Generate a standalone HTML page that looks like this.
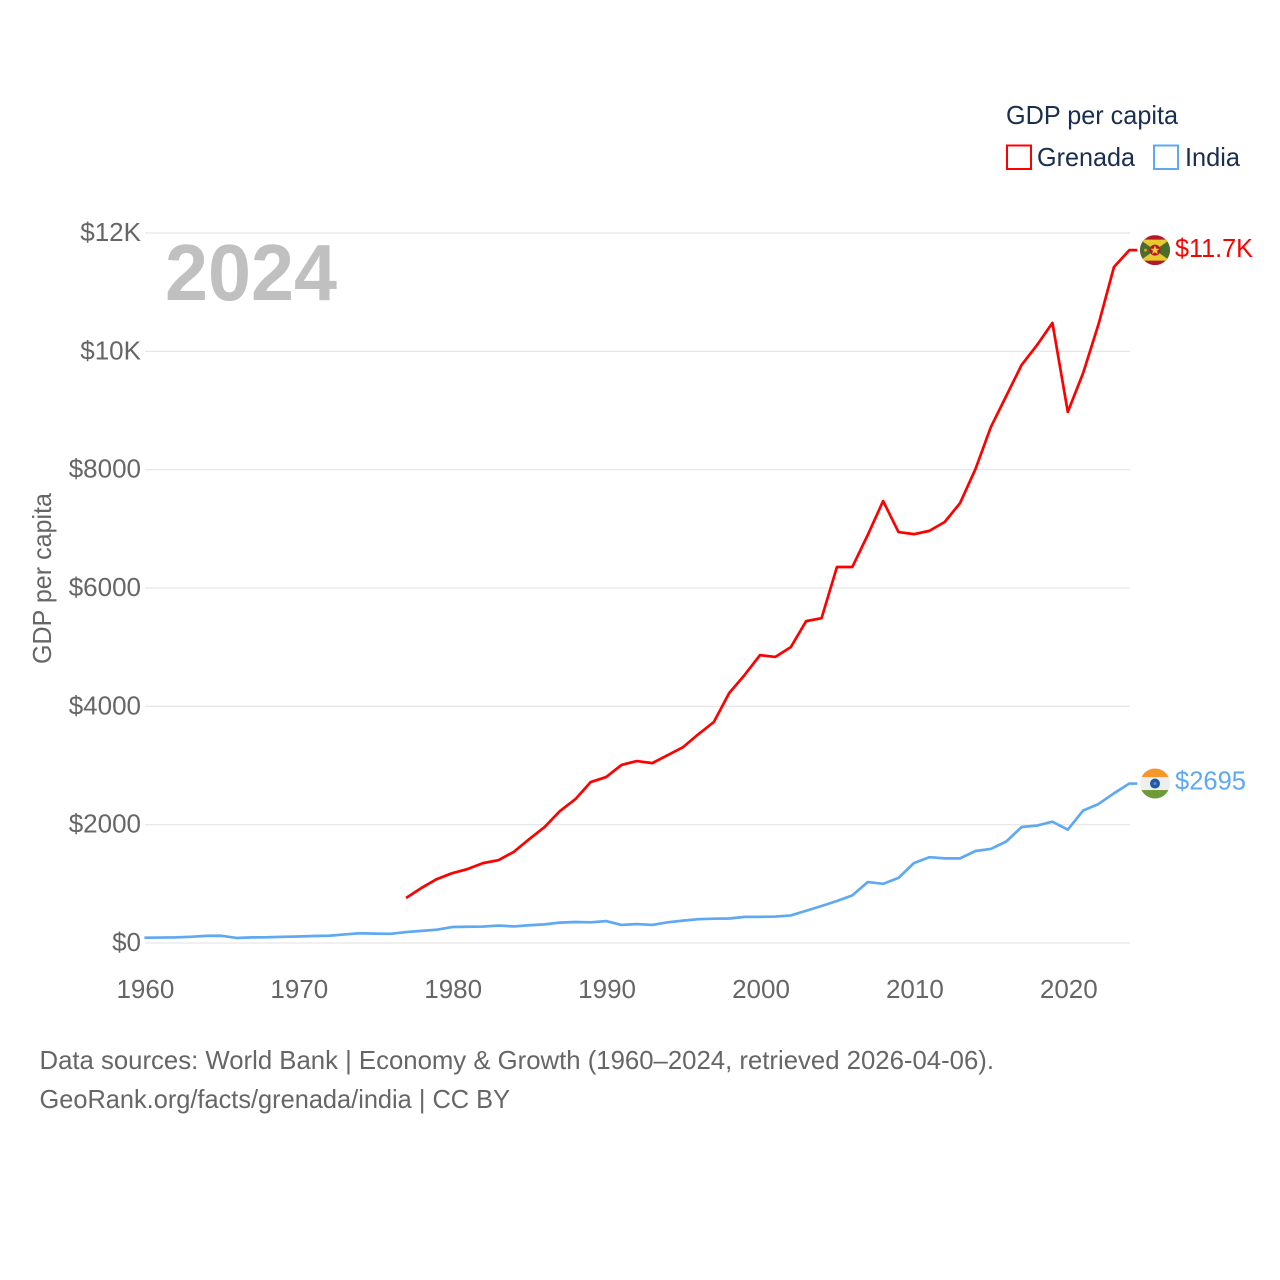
<!DOCTYPE html>
<html lang="en">
<head>
<meta charset="utf-8">
<title>GDP per capita: Grenada and India</title>
<style>
html,body{margin:0;padding:0;background:#fff;}
svg{display:block;font-family:"Liberation Sans",sans-serif;}
</style>
</head>
<body>
<svg id="chart" xmlns="http://www.w3.org/2000/svg" width="1280" height="1280" viewBox="0 0 1280 1280">
  <defs>
    <clipPath id="flag-clip"><circle cx="0" cy="0" r="15"></circle></clipPath>
  </defs>
  <rect x="0" y="0" width="1280" height="1280" fill="#fff"></rect>
  <g id="grid"></g>
  <g id="y-ticks"></g>
  <g id="x-ticks"></g>
  <text x="165" y="300" font-size="80" font-weight="700" fill="#c0c0c0" textLength="172" lengthAdjust="spacingAndGlyphs">2024</text>
  <text transform="translate(51,664) rotate(-90)" font-size="26" fill="#666" textLength="171" lengthAdjust="spacingAndGlyphs">GDP per capita</text>
  <g id="series"></g>
  <g>
    <text x="1006" y="124" font-size="26" fill="#1a2e4f" textLength="172" lengthAdjust="spacingAndGlyphs">GDP per capita</text>
    <rect x="1007" y="145.5" width="24" height="23.5" fill="none" stroke="#ff0000" stroke-width="2"></rect>
    <text x="1037" y="166" font-size="26" fill="#1a2e4f" textLength="98" lengthAdjust="spacingAndGlyphs">Grenada</text>
    <rect x="1154" y="145.5" width="24" height="23.5" fill="none" stroke="#5ea9f1" stroke-width="2"></rect>
    <text x="1185" y="166" font-size="26" fill="#1a2e4f" textLength="55" lengthAdjust="spacingAndGlyphs">India</text>
  </g>
  <g id="flag-grenada">
    <g clip-path="url(#flag-clip)">
      <rect x="-15" y="-15" width="30" height="30" fill="#b5172b"></rect>
      <rect x="-15" y="-10.5" width="30" height="21" fill="#4a6d2a"></rect>
      <polygon points="-15,-10.5 15,-10.5 0,0" fill="#e8c92e"></polygon>
      <polygon points="-15,10.5 15,10.5 0,0" fill="#e8c92e"></polygon>
      <circle cx="0" cy="0" r="5.5" fill="#b5172b"></circle>
      <polygon points="0,-4.5 1.3,-1.4 4.5,-1.4 2,0.7 2.9,4 0,2.1 -2.9,4 -2,0.7 -4.5,-1.4 -1.3,-1.4" fill="#f0d030"></polygon>
      <circle cx="-9.5" cy="0" r="1.5" fill="#e0a030"></circle>
    </g>
  </g>
  <g id="flag-india">
    <g clip-path="url(#flag-clip)">
      <rect x="-15" y="-15" width="30" height="8.5" fill="#f7962b"></rect>
      <rect x="-15" y="-6.5" width="30" height="13" fill="#eeeeee"></rect>
      <rect x="-15" y="6.5" width="30" height="8.5" fill="#6f9a3a"></rect>
      <circle cx="0" cy="0" r="5" fill="#1f5aa8"></circle>
      <circle cx="0" cy="0" r="1.5" fill="#5f8cc8"></circle>
    </g>
  </g>
  <text id="label-grenada" x="1175" font-size="26" fill="#ff0000" textLength="78" lengthAdjust="spacingAndGlyphs"></text>
  <text id="label-india" x="1175" font-size="26" fill="#5ea9f1" textLength="71" lengthAdjust="spacingAndGlyphs"></text>
  <g>
    <text x="39.5" y="1069" font-size="26" fill="#666" textLength="954.5" lengthAdjust="spacingAndGlyphs">Data sources: World Bank | Economy &amp; Growth (1960–2024, retrieved 2026-04-06).</text>
    <text x="39.5" y="1108" font-size="26" fill="#666" textLength="470.5" lengthAdjust="spacingAndGlyphs">GeoRank.org/facts/grenada/india | CC BY</text>
  </g>
</svg>
<script>
const startYear = 1960;
const endYear = 2024;
const grenadaStartYear = 1977;
const grenadaValues = [760,930,1080,1180,1250,1350,1400,1540,1755,1960,2230,2430,2720,2805,3010,3075,3040,3175,3310,3530,3735,4225,4530,4865,4835,5000,5440,5490,6355,6355,6895,7470,6945,6910,6965,7115,7435,8010,8720,9245,9770,10105,10480,8975,9635,10460,11425,11710];
const indiaValues = [90,92,95,105,120,122,85,95,97,105,110,118,122,145,165,158,155,185,205,225,270,275,278,295,280,300,315,345,355,350,370,305,320,305,350,378,402,411,414,442,442,447,466,545,625,710,805,1030,1000,1100,1350,1450,1430,1430,1555,1590,1715,1960,1985,2050,1915,2240,2350,2530,2695];
const yTickValues = [0,2000,4000,6000,8000,10000,12000];
const yTickLabels = ["$0","$2000","$4000","$6000","$8000","$10K","$12K"];
const xTickValues = [1960,1970,1980,1990,2000,2010,2020];
const grenadaEndLabel = "$11.7K";
const indiaEndLabel = "$2695";

const NS = "http://www.w3.org/2000/svg";
function xScale(year) { return 144.4 + (year - 1960) * 15.39; }
function yScale(value) { return 943 - value * 0.05917; }

const grid = document.getElementById("grid");
const yTicks = document.getElementById("y-ticks");
const xTicks = document.getElementById("x-ticks");
const seriesGroup = document.getElementById("series");

yTickValues.forEach(function (value, i) {
  const line = document.createElementNS(NS, "line");
  
  
  line.setAttribute("x1", 145);
  line.setAttribute("x2", 1130);
  line.setAttribute("y1", yScale(value));
  line.setAttribute("y2", yScale(value));
  line.setAttribute("stroke", "#e8e8e8");
  line.setAttribute("stroke-width", "1.3");
  grid.appendChild(line);

  const label = document.createElementNS(NS, "text");
  
  
  label.setAttribute("x", 141);
  label.setAttribute("y", yScale(value) + 8);
  label.setAttribute("text-anchor", "end");
  label.setAttribute("font-size", "26");
  label.setAttribute("fill", "#666");
  label.textContent = yTickLabels[i];
  yTicks.appendChild(label);
});

xTickValues.forEach(function (year) {
  const label = document.createElementNS(NS, "text");
  
  
  label.setAttribute("x", xScale(year) + 1);
  label.setAttribute("y", 998);
  label.setAttribute("text-anchor", "middle");
  label.setAttribute("font-size", "26");
  label.setAttribute("fill", "#666");
  label.textContent = String(year);
  xTicks.appendChild(label);
});

function linePoints(values, firstYear) {
  const pts = values.map(function (v, i) {
    return xScale(firstYear + i).toFixed(2) + "," + yScale(v).toFixed(2);
  });
  pts.push((xScale(endYear) + 8).toFixed(2) + "," + yScale(values[values.length - 1]).toFixed(2));
  return pts.join(" ");
}

const indiaLine = document.createElementNS(NS, "polyline");


indiaLine.setAttribute("points", linePoints(indiaValues, startYear));
indiaLine.setAttribute("fill", "none");
indiaLine.setAttribute("stroke", "#5ea9f1");
indiaLine.setAttribute("stroke-width", "2.7");
indiaLine.setAttribute("stroke-linejoin", "round");
seriesGroup.appendChild(indiaLine);

const grenadaLine = document.createElementNS(NS, "polyline");


grenadaLine.setAttribute("points", linePoints(grenadaValues, grenadaStartYear));
grenadaLine.setAttribute("fill", "none");
grenadaLine.setAttribute("stroke", "#ff0000");
grenadaLine.setAttribute("stroke-width", "2.7");
grenadaLine.setAttribute("stroke-linejoin", "round");
seriesGroup.appendChild(grenadaLine);

const grenadaY = yScale(grenadaValues[grenadaValues.length - 1]);
const indiaY = yScale(indiaValues[indiaValues.length - 1]);
document.getElementById("flag-grenada").setAttribute("transform", "translate(1155," + grenadaY + ")");
document.getElementById("flag-india").setAttribute("transform", "translate(1155," + indiaY + ")");
const labelGrenada = document.getElementById("label-grenada");
labelGrenada.setAttribute("y", grenadaY + 7);
labelGrenada.textContent = grenadaEndLabel;
const labelIndia = document.getElementById("label-india");
labelIndia.setAttribute("y", indiaY + 6);
labelIndia.textContent = indiaEndLabel;
</script>
</body>
</html>
